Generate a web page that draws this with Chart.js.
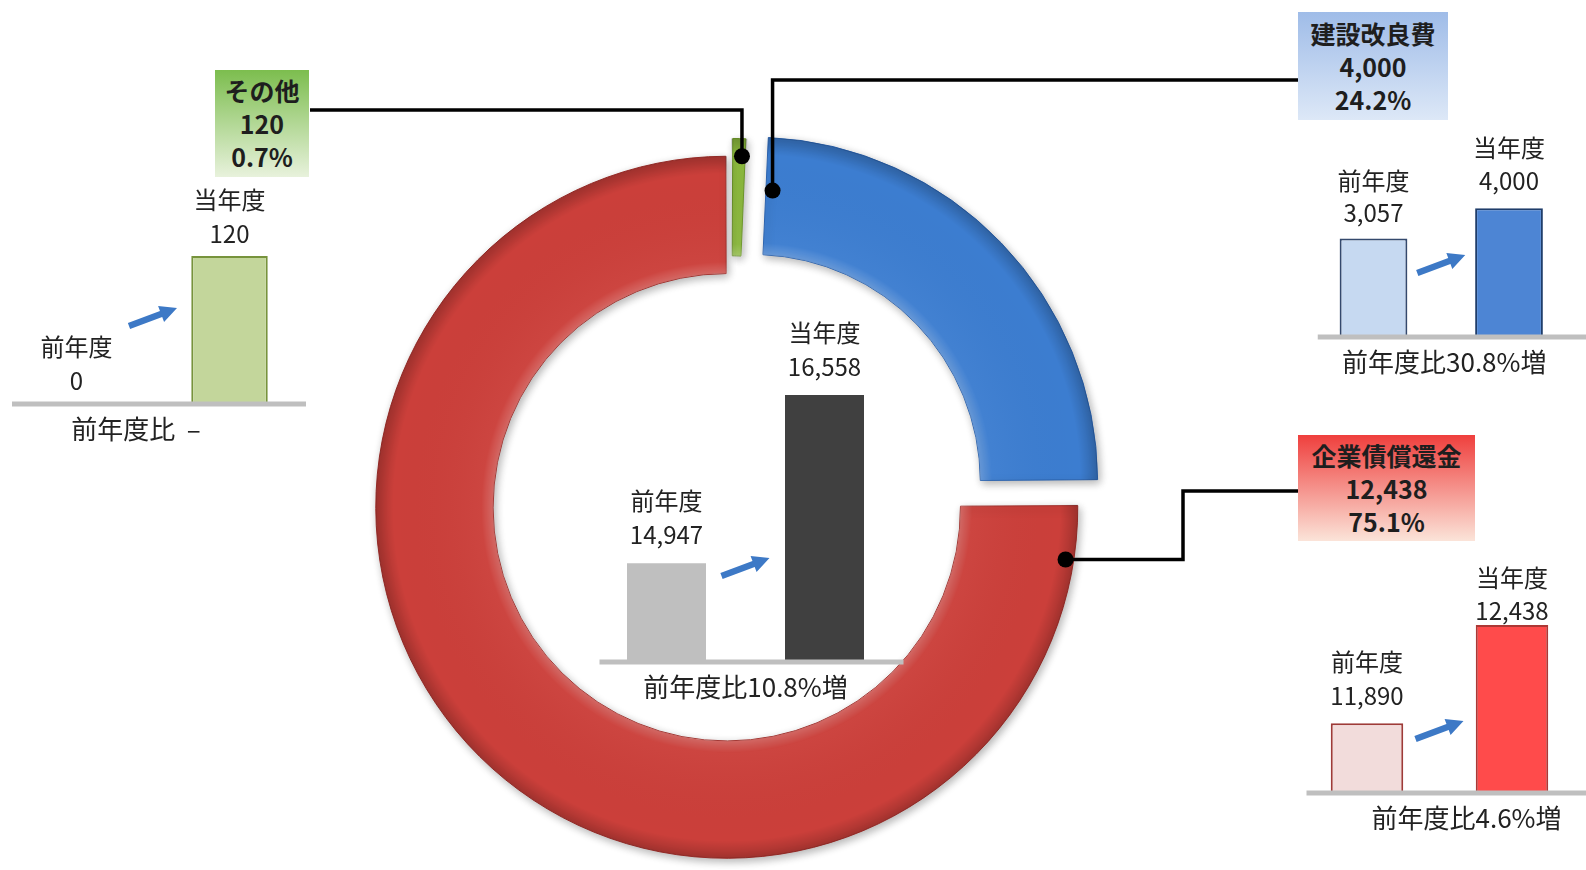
<!DOCTYPE html>
<html lang="ja">
<head>
<meta charset="utf-8">
<title>支出の内訳</title>
<script src="https://cdn.jsdelivr.net/npm/chart.js@4.4.1/dist/chart.umd.min.js"></script>
<style>
  html, body { margin: 0; padding: 0; background: #fff; }
  body { width: 1586px; height: 870px; position: relative; overflow: hidden;
         font-family: 'Noto Sans CJK JP', 'Noto Sans', sans-serif; color: #222; }
  canvas { position: absolute; }
  .callout { position: absolute; box-sizing: border-box; display: flex; flex-direction: column;
             justify-content: center; align-items: center; font-weight: 700; font-size: 25px;
             line-height: 33px; color: #1e1e1e; }
  .callout span { display: block; white-space: nowrap; }
</style>
</head>
<body>
<canvas id="ring" width="1586" height="870" style="left:0;top:0"></canvas>
<canvas id="barTotal" width="340" height="420" style="left:580px;top:300px"></canvas>
<canvas id="barOther" width="330" height="300" style="left:0;top:150px"></canvas>
<canvas id="barBuild" width="296" height="260" style="left:1290px;top:120px"></canvas>
<canvas id="barBond" width="296" height="300" style="left:1290px;top:545px"></canvas>

<div class="callout" id="tag0" style="left:215px;top:70px;width:94px;height:107px;background:linear-gradient(#7cbd4e,#e8f2dc)"></div>
<div class="callout" id="tag1" style="left:1298px;top:12px;width:150px;height:108px;background:linear-gradient(#9fbce8,#dde8f7)"></div>
<div class="callout" id="tag2" style="left:1298px;top:435px;width:177px;height:106px;background:linear-gradient(#ef3f3d,#fbe4d9)"></div>

<script>
const FONT = "'Noto Sans CJK JP', 'Noto Sans', sans-serif";
Chart.defaults.font.family = FONT;

// 支出の内訳（当年度）
const segments = ['その他', '建設改良費', '企業債償還金'];
const segmentValues = [120, 4000, 12438];

// 前年度・当年度の比較
const years = ['前年度', '当年度'];
const totalByYear = [14947, 16558];
const otherByYear = [0, 120];
const buildByYear = [3057, 4000];
const bondByYear = [11890, 12438];

const ringColors = ['#8dbb3e', '#3c7dd0', '#cb3f3a'];
const ringEdges = ['#6b9528', '#2b62ad', '#a02f2b'];
const ringOffsets = [40, 120, 24];

// leader anchor on each arc (t: along the arc, u: across the ring) and its route to the label box
const leaders = [
  { t: 0.7, u: 0.85, route: [['y', 110], ['x', 310]] },
  { t: 0.015, u: 0.55, route: [['y', 80], ['x', 1298]] },
  { t: 0.034, u: 0.93, route: [['x', 1183], ['y', 491], ['x', 1298]] }
];

const grandTotal = segmentValues.reduce((a, b) => a + b, 0);
const share = v => (v / grandTotal * 100).toFixed(1) + '%';
const fmt = v => v.toLocaleString('en-US');

segments.forEach((name, i) => {
  document.getElementById('tag' + i).innerHTML =
    '<span>' + name + '</span><span>' + fmt(segmentValues[i]) + '</span><span>' + share(segmentValues[i]) + '</span>';
});

function ratioText(pair) {
  if (!pair[0]) return '前年度比  –';
  return '前年度比' + ((pair[1] / pair[0] - 1) * 100).toFixed(1) + '%増';
}

// same geometry the arc element uses when it is pulled out by its offset
function arcGeom(arc) {
  const off = (arc.options.offset || 0) / 4;
  const mid = (arc.startAngle + arc.endAngle) / 2;
  const circ = arc.endAngle - arc.startAngle;
  const grow = off * (1 - Math.sin(Math.min(Math.PI, circ)));
  return {
    x: arc.x + Math.cos(mid) * off,
    y: arc.y + Math.sin(mid) * off,
    ri: arc.innerRadius + grow,
    ro: arc.outerRadius + grow
  };
}

const ringDecor = {
  id: 'ringDecor',
  beforeDatasetsDraw(chart) {
    const c = chart.ctx;
    c.save();
    c.shadowColor = 'rgba(0,0,0,0.3)';
    c.shadowBlur = 9;
    c.shadowOffsetX = 2;
    c.shadowOffsetY = 3;
  },
  afterDatasetsDraw(chart) {
    const c = chart.ctx;
    c.restore();
    const arcs = chart.getDatasetMeta(0).data;

    arcs.forEach(arc => {
      const g = arcGeom(arc);
      c.save();
      c.beginPath();
      c.arc(g.x, g.y, g.ro, arc.startAngle, arc.endAngle);
      c.arc(g.x, g.y, g.ri, arc.endAngle, arc.startAngle, true);
      c.closePath();
      c.clip();
      const shade = c.createRadialGradient(g.x, g.y, g.ri, g.x, g.y, g.ro);
      shade.addColorStop(0, 'rgba(255,255,255,0.22)');
      shade.addColorStop(0.1, 'rgba(255,255,255,0.03)');
      shade.addColorStop(0.85, 'rgba(0,0,0,0)');
      shade.addColorStop(1, 'rgba(0,0,0,0.2)');
      c.fillStyle = shade;
      c.fillRect(0, 0, chart.width, chart.height);
      c.restore();
    });

    c.save();
    c.strokeStyle = '#000';
    c.fillStyle = '#000';
    c.lineWidth = 3.5;
    arcs.forEach((arc, i) => {
      const g = arcGeom(arc);
      const L = leaders[i];
      const ang = arc.startAngle + L.t * (arc.endAngle - arc.startAngle);
      const r = g.ri + L.u * (g.ro - g.ri);
      let x = g.x + Math.cos(ang) * r, y = g.y + Math.sin(ang) * r;
      const x0 = x, y0 = y;
      c.beginPath();
      c.moveTo(x, y);
      L.route.forEach(([axis, v]) => {
        if (axis === 'x') x = v; else y = v;
        c.lineTo(x, y);
      });
      c.stroke();
      c.beginPath();
      c.arc(x0, y0, 8, 0, Math.PI * 2);
      c.fill();
    });
    c.restore();
  }
};

new Chart(document.getElementById('ring'), {
  type: 'doughnut',
  data: {
    labels: segments,
    datasets: [{
      data: segmentValues,
      backgroundColor: ringColors,
      borderColor: ringEdges,
      borderWidth: 1,
      offset: ringOffsets,
      hoverOffset: 0,
      clip: false
    }]
  },
  options: {
    responsive: false,
    animation: false,
    events: [],
    radius: 345,
    cutout: '66%',
    layout: { padding: { left: 0, right: 124, top: 136, bottom: 0 } },
    plugins: { legend: { display: false }, tooltip: { enabled: false } }
  },
  plugins: [ringDecor]
});

function drawArrow(c, x, y) {
  const dx = 48, dy = -18;
  const len = Math.hypot(dx, dy), h = len / 2;
  const head = 17, half = 8.5, shaft = 3.2;
  c.save();
  c.translate(x, y);
  c.rotate(Math.atan2(dy, dx));
  c.fillStyle = '#3d79c6';
  c.beginPath();
  c.moveTo(-h, -shaft);
  c.lineTo(h - head, -shaft);
  c.lineTo(h - head, -half);
  c.lineTo(h, 0);
  c.lineTo(h - head, half);
  c.lineTo(h - head, shaft);
  c.lineTo(-h, shaft);
  c.closePath();
  c.fill();
  c.restore();
}

const barDecor = {
  id: 'barDecor',
  afterDatasetsDraw(chart, args, o) {
    const c = chart.ctx, area = chart.chartArea;
    const bars = chart.getDatasetMeta(0).data;
    const values = chart.data.datasets[0].data;
    c.save();
    c.fillStyle = '#bfbfbf';
    const ruleEnd = Math.min(area.right + o.ruleExtra, chart.width);
    c.fillRect(area.left + 12, area.bottom - 2.5, ruleEnd - area.left - 12, 5);

    c.fillStyle = '#222';
    c.textAlign = 'center';
    c.textBaseline = 'middle';
    c.font = '24px ' + FONT;
    bars.forEach((bar, i) => {
      const lift = o.lifts[i];
      c.fillText(chart.data.labels[i], bar.x, bar.y - lift[0]);
      c.fillText(fmt(values[i]), bar.x, bar.y - lift[1]);
    });

    drawArrow(c, (bars[0].x + bars[1].x) / 2, area.bottom - o.arrowRise);

    c.fillStyle = '#222';
    c.font = '26px ' + FONT;
    c.fillText(o.caption, (area.left + area.right) / 2 + o.captionShift, area.bottom + 25);
    c.restore();
  }
};

function compareBars(id, values, look) {
  return new Chart(document.getElementById(id), {
    type: 'bar',
    data: {
      labels: years,
      datasets: [{
        data: values,
        backgroundColor: look.fill,
        borderColor: look.edge,
        borderWidth: look.edgeWidth,
        barPercentage: 0.5,
        categoryPercentage: 1
      }]
    },
    options: {
      responsive: false,
      animation: false,
      events: [],
      layout: { padding: look.padding },
      scales: {
        x: { display: false },
        y: { display: false, min: look.min, max: look.max }
      },
      plugins: {
        legend: { display: false },
        tooltip: { enabled: false },
        barDecor: {
          lifts: look.lifts,
          arrowRise: look.arrowRise,
          caption: ratioText(values),
          captionShift: look.captionShift,
          ruleExtra: look.ruleExtra
        }
      }
    },
    plugins: [barDecor]
  });
}

compareBars('barTotal', totalByYear, {
  fill: ['#bfbfbf', '#404040'], edge: ['#bfbfbf', '#404040'], edgeWidth: 0,
  min: 14000, max: 17000,
  padding: { left: 7.5, right: 16.5, top: 49, bottom: 58 },
  lifts: [[62, 28], [62, 28]], arrowRise: 95, captionShift: 0, ruleExtra: 0
});

compareBars('barOther', otherByYear, {
  fill: ['#c3d69b', '#c3d69b'], edge: ['#77933c', '#77933c'], edgeWidth: [0, 2],
  min: 0, max: 150,
  padding: { left: 0, right: 24, top: 69, bottom: 46 },
  lifts: [[57, 23], [56, 22]], arrowRise: 87, captionShift: -17, ruleExtra: 0
});

compareBars('barBuild', buildByYear, {
  fill: ['#c6d9f1', '#4d85d4'], edge: ['#34496d', '#1f3d6a'], edgeWidth: 2,
  min: 0, max: 5000,
  padding: { left: 15.75, right: 9.25, top: 56, bottom: 43 },
  lifts: [[58, 26], [60, 27]], arrowRise: 73, captionShift: 3, ruleExtra: 20
});

compareBars('barBond', bondByYear, {
  fill: ['#f2dcdb', '#ff4b4b'], edge: ['#9e3b38', '#ad3835'], edgeWidth: 2,
  min: 11500, max: 12700,
  padding: { left: 4.5, right: 1.5, top: 33, bottom: 52 },
  lifts: [[61, 27], [47, 14]], arrowRise: 63, captionShift: 27, ruleExtra: 20
});
</script>
</body>
</html>
